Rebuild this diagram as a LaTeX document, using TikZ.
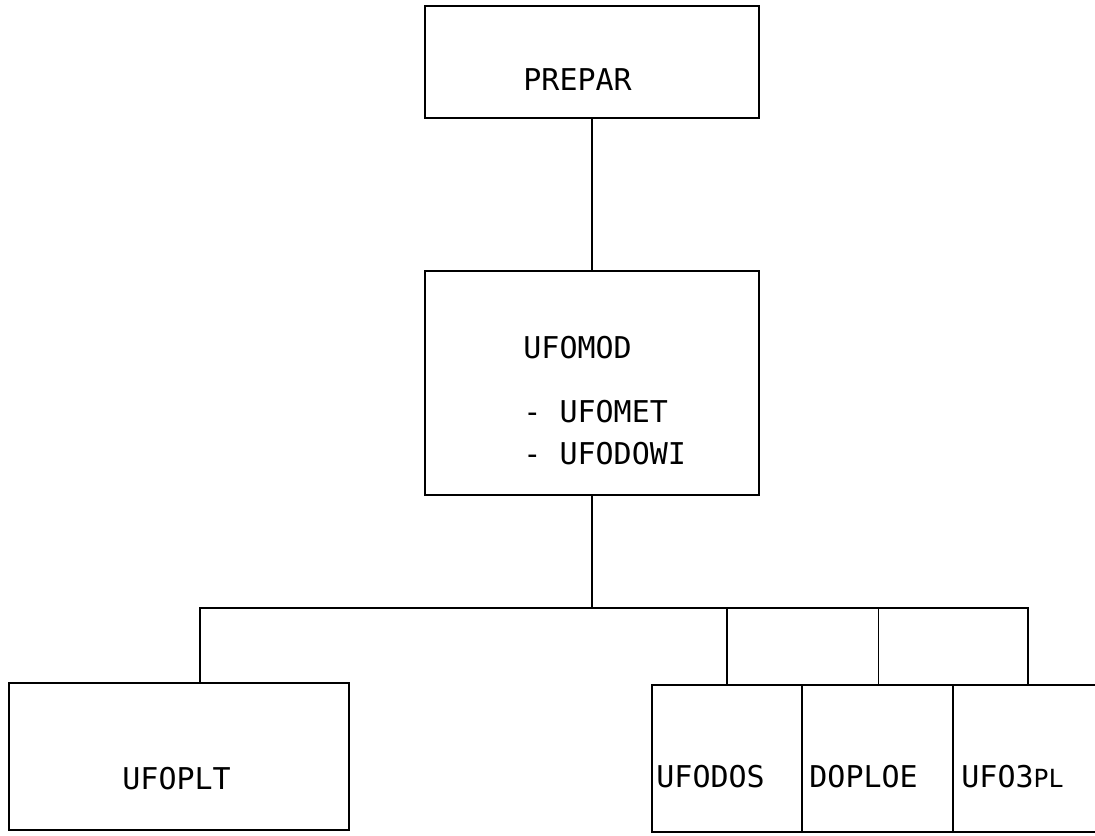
\documentclass[tikz,border=0pt]{standalone}
\usepackage{fontspec}
\setmonofont{DejaVu Sans Mono}
\begin{document}
\begin{tikzpicture}[x=0.5pt, y=-0.5pt,
			box/.style = {draw, line width=1.1pt, inner sep=0pt},
			link/.style = {line width=0.7pt},
			txt/.style = {anchor=west, inner sep=0pt, font=\ttfamily\fontsize{15}{19}\selectfont}]
			
			\clip (0,0) rectangle (1095,835);
			
			% boxes
			\node[box, minimum width=167pt, minimum height=56pt] (prepar) at (592,62) {};
			\node[box, minimum width=167pt, minimum height=112pt] (ufomod) at (592,383) {};
			\node[box, minimum width=170pt, minimum height=73.5pt] (ufoplt) at (179,756.5) {};
			\node[box, minimum width=75pt, minimum height=73.5pt] (ufodos) at (727,758.5) {};
			\node[box, minimum width=75.5pt, minimum height=73.5pt] (doploe) at (877.5,758.5) {};
			\node[box, minimum width=75pt, minimum height=73.5pt] (ufo3pl) at (1028,758.5) {};
			
			% texts
			\node[txt] (tprepar) at (523,80) {PREPAR};
			\node[txt] (tufomod) at (523,348) {UFOMOD};
			\node[txt] (tufomet) at (523,412) {- UFOMET};
			\node[txt] (tufodowi) at (523,454) {- UFODOWI};
			\node[txt] (tufoplt) at (122,779) {UFOPLT};
			\node[txt] (tufodos) at (656,777) {UFODOS};
			\node[txt] (tdoploe) at (809,777) {DOPLOE};
			\node[txt] (tufo3pl) at (961,777) {UFO3{\fontsize{12.5}{13}\selectfont PL}};
			
			% connections
			\coordinate (bus) at (592,608);
			\draw[link] (prepar) -- (ufomod);
			\draw[link] (ufomod) -- (bus);
			\draw[link] ([xshift=10.5pt]ufoplt.north) |- (bus) -| (ufo3pl.north);
			\draw[link] (ufodos.north) -- (ufodos.north |- bus);
			\draw[link] ([xshift=0.5pt]doploe.north) -- ([xshift=0.5pt]doploe.north |- bus);
			\end{tikzpicture}
\end{document}
